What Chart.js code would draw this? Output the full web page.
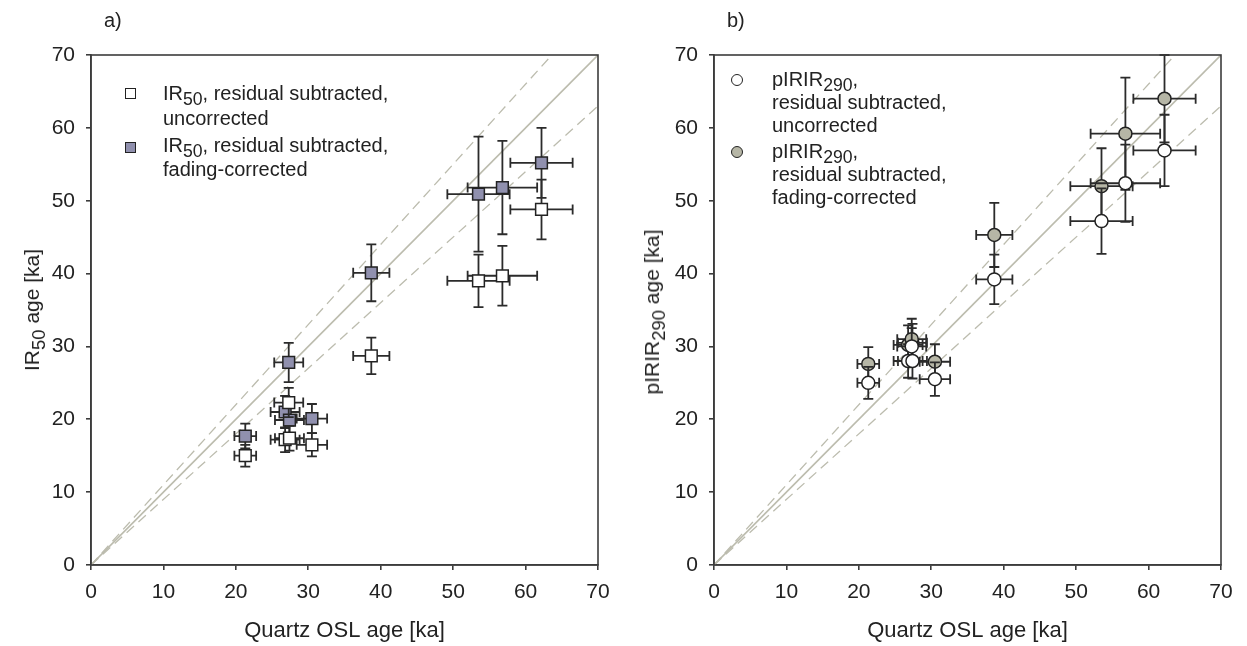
<!DOCTYPE html>
<html>
<head>
<meta charset="utf-8">
<script src="https://cdn.jsdelivr.net/npm/chart.js@4.4.1/dist/chart.umd.min.js"></script>
<style>
  body { margin: 0; background: #fff; font-family: "Liberation Sans", Arial, sans-serif; color: #222; }
  #page { position: relative; width: 1247px; height: 646px; overflow: hidden; }
  .panel { position: absolute; top: 0; height: 646px; }
  #panelA { left: 0; width: 620px; }
  #panelB { left: 623px; width: 624px; }
  .tag { position: absolute; font-size: 20px; line-height: 24px; }
  .leg { position: absolute; font-size: 20px; white-space: nowrap; }
  .mk { position: absolute; box-sizing: border-box; border: 1.6px solid #222; }
  .ytitle { position: absolute; font-size: 21px; white-space: nowrap;
            transform: translate(-50%, -50%) rotate(-90deg); }
  sub { font-size: 88%; vertical-align: -0.3em; line-height: 0; }
</style>
</head>
<body>
<div id="page">
  <div class="panel" id="panelA"><canvas id="chartA"></canvas></div>
  <div class="panel" id="panelB"><canvas id="chartB"></canvas></div>

  <div class="tag" style="left:104px; top:8px;">a)</div>
  <div class="tag" style="left:727px; top:8px;">b)</div>

  <div class="ytitle" style="left:32px; top:310px;">IR<sub>50</sub> age [ka]</div>
  <div class="ytitle" style="left:652px; top:312px;">pIRIR<sub>290</sub> age [ka]</div>

  <!-- legend a -->
  <div class="mk" style="left:125px; top:88px; width:11px; height:11px; background:#fff;"></div>
  <div class="leg" style="left:163px; top:81px; line-height:25px;">IR<sub>50</sub>, residual subtracted,<br>uncorrected</div>
  <div class="mk" style="left:125px; top:142px; width:11px; height:11px; background:#9090ae;"></div>
  <div class="leg" style="left:163px; top:133px; line-height:24px;">IR<sub>50</sub>, residual subtracted,<br>fading-corrected</div>

  <!-- legend b -->
  <div class="mk" style="left:731px; top:74px; width:12px; height:12px; border-radius:50%; background:#fff;"></div>
  <div class="leg" style="left:772px; top:68px; line-height:23px;">pIRIR<sub>290</sub>,<br>residual subtracted,<br>uncorrected</div>
  <div class="mk" style="left:731px; top:146px; width:12px; height:12px; border-radius:50%; background:#b6b6a6;"></div>
  <div class="leg" style="left:772px; top:140px; line-height:23px;">pIRIR<sub>290</sub>,<br>residual subtracted,<br>fading-corrected</div>
</div>

<script>
// Quartz OSL ages (shared x values) and their errors
const oslAge = [21.3, 26.8, 27.4, 27.3, 30.5, 38.7, 53.5, 56.8, 62.2];
const oslErr = [1.5, 2.0, 2.0, 2.0, 2.1, 2.5, 4.3, 4.8, 4.3];

// IR50 ages, panel a
const ir50Unc = [15.0, 17.2, 17.4, 22.3, 16.5, 28.7, 39.0, 39.7, 48.8];
const ir50UncErr = [1.5, 1.7, 1.7, 2.0, 1.6, 2.5, 3.6, 4.1, 4.1];
const ir50Fc = [17.7, 21.0, 19.9, 27.8, 20.1, 40.1, 50.9, 51.8, 55.2];
const ir50FcErr = [1.7, 2.2, 2.0, 2.7, 2.0, 3.9, 7.9, 6.4, 4.8];

// pIRIR290 ages, panel b
const pir290Unc = [25.0, 28.0, 28.0, 30.0, 25.5, 39.2, 47.2, 52.4, 56.9];
const pir290UncErr = [2.2, 2.3, 2.4, 2.5, 2.3, 3.4, 4.5, 5.3, 4.9];
const pir290Fc = [27.6, 30.2, 30.5, 31.0, 27.9, 45.3, 52.0, 59.2, 64.0];
const pir290FcErr = [2.3, 2.7, 2.6, 2.8, 2.4, 4.4, 5.2, 7.7, 6.0];

// reference lines: 1:1 and +/-10 %
const refX = [0, 70];
const oneToOne = [0, 70];
const plus10 = [0, 77];
const minus10 = [0, 63];

const axisMin = 0;
const axisMax = 70;
const tickStep = 10;

const lineCol = '#bcbcae';
const barCol = '#2b2b2b';
const axisCol = '#3c3c3c';

function toPoints(xs, ys) {
    return xs.map((v, i) => ({ x: v, y: ys[i] }));
}

// draws x and y error bars under each marker dataset
const errorBars = {
    id: 'errorBars',
    beforeDatasetDraw(chart, args) {
        const ds = chart.data.datasets[args.index];
        if (!ds.yErr) return;
        const { ctx, scales: { x, y } } = chart;
        const cap = 5;
        ctx.save();
        ctx.strokeStyle = barCol;
        ctx.lineWidth = 1.8;
        ds.data.forEach((p, i) => {
            const px = x.getPixelForValue(p.x);
            const py = y.getPixelForValue(p.y);
            const xl = x.getPixelForValue(p.x - ds.xErr[i]);
            const xr = x.getPixelForValue(p.x + ds.xErr[i]);
            const yt = y.getPixelForValue(p.y + ds.yErr[i]);
            const yb = y.getPixelForValue(p.y - ds.yErr[i]);
            ctx.beginPath();
            ctx.moveTo(xl, py); ctx.lineTo(xr, py);
            ctx.moveTo(xl, py - cap); ctx.lineTo(xl, py + cap);
            ctx.moveTo(xr, py - cap); ctx.lineTo(xr, py + cap);
            ctx.moveTo(px, yt); ctx.lineTo(px, yb);
            ctx.moveTo(px - cap, yt); ctx.lineTo(px + cap, yt);
            ctx.moveTo(px - cap, yb); ctx.lineTo(px + cap, yb);
            ctx.stroke();
        });
        ctx.restore();
    }
};

// closed box round the plot area
const frame = {
    id: 'frame',
    afterDraw(chart) {
        const { ctx, chartArea: a } = chart;
        ctx.save();
        ctx.strokeStyle = axisCol;
        ctx.lineWidth = 1.6;
        ctx.strokeRect(a.left, a.top, a.right - a.left, a.bottom - a.top);
        ctx.restore();
    }
};

function makeChart(canvasId, unc, uncErr, fc, fcErr, style, fcColor, padRight) {
    const marker = {
        pointStyle: style,
        pointRadius: style === 'rect' ? 8.3 : 6.5,
        pointBorderColor: '#222',
        pointBorderWidth: 1.5,
        showLine: false
    };
    return new Chart(document.getElementById(canvasId), {
        type: 'scatter',
        data: {
            datasets: [
                Object.assign({
                    label: 'uncorrected',
                    data: toPoints(oslAge, unc),
                    xErr: oslErr, yErr: uncErr,
                    pointBackgroundColor: '#ffffff',
                    order: 1
                }, marker),
                Object.assign({
                    label: 'fading-corrected',
                    data: toPoints(oslAge, fc),
                    xErr: oslErr, yErr: fcErr,
                    pointBackgroundColor: fcColor,
                    order: 2
                }, marker),
                {
                    label: '1:1',
                    data: toPoints(refX, oneToOne),
                    showLine: true, pointRadius: 0,
                    borderColor: lineCol, borderWidth: 1.6,
                    order: 5
                },
                {
                    label: '+10%',
                    data: toPoints(refX, plus10),
                    showLine: true, pointRadius: 0,
                    borderColor: lineCol, borderWidth: 1.3, borderDash: [10, 6],
                    order: 5
                },
                {
                    label: '-10%',
                    data: toPoints(refX, minus10),
                    showLine: true, pointRadius: 0,
                    borderColor: lineCol, borderWidth: 1.3, borderDash: [10, 6],
                    order: 5
                }
            ]
        },
        options: {
            responsive: true,
            maintainAspectRatio: false,
            animation: false,
            layout: { padding: { top: 55, right: padRight, left: 0, bottom: 0 } },
            plugins: { legend: { display: false }, tooltip: { enabled: false } },
            scales: {
                x: {
                    type: 'linear',
                    min: axisMin, max: axisMax,
                    afterFit: s => { s.height = 81; },
                    ticks: { stepSize: tickStep, padding: 10, color: '#222',
                             font: { family: 'Liberation Sans', size: 21 } },
                    grid: { drawOnChartArea: false, drawTicks: true, tickLength: 5,
                            color: axisCol, lineWidth: 1.6 },
                    border: { display: true, color: axisCol, width: 1.6 },
                    title: { display: true, text: 'Quartz OSL age [ka]', color: '#222',
                             padding: { top: 0, bottom: 2 },
                             font: { family: 'Liberation Sans', size: 22 } }
                },
                y: {
                    type: 'linear',
                    min: axisMin, max: axisMax,
                    afterFit: s => { s.width = 91; },
                    ticks: { stepSize: tickStep, padding: 11, color: '#222',
                             font: { family: 'Liberation Sans', size: 21 } },
                    grid: { drawOnChartArea: false, drawTicks: true, tickLength: 5,
                            color: axisCol, lineWidth: 1.6 },
                    border: { display: true, color: axisCol, width: 1.6 }
                }
            }
        },
        plugins: [errorBars, frame]
    });
}

makeChart('chartA', ir50Unc, ir50UncErr, ir50Fc, ir50FcErr, 'rect', '#9090ae', 22);
makeChart('chartB', pir290Unc, pir290UncErr, pir290Fc, pir290FcErr, 'circle', '#b6b6a6', 26);
</script>
</body>
</html>
